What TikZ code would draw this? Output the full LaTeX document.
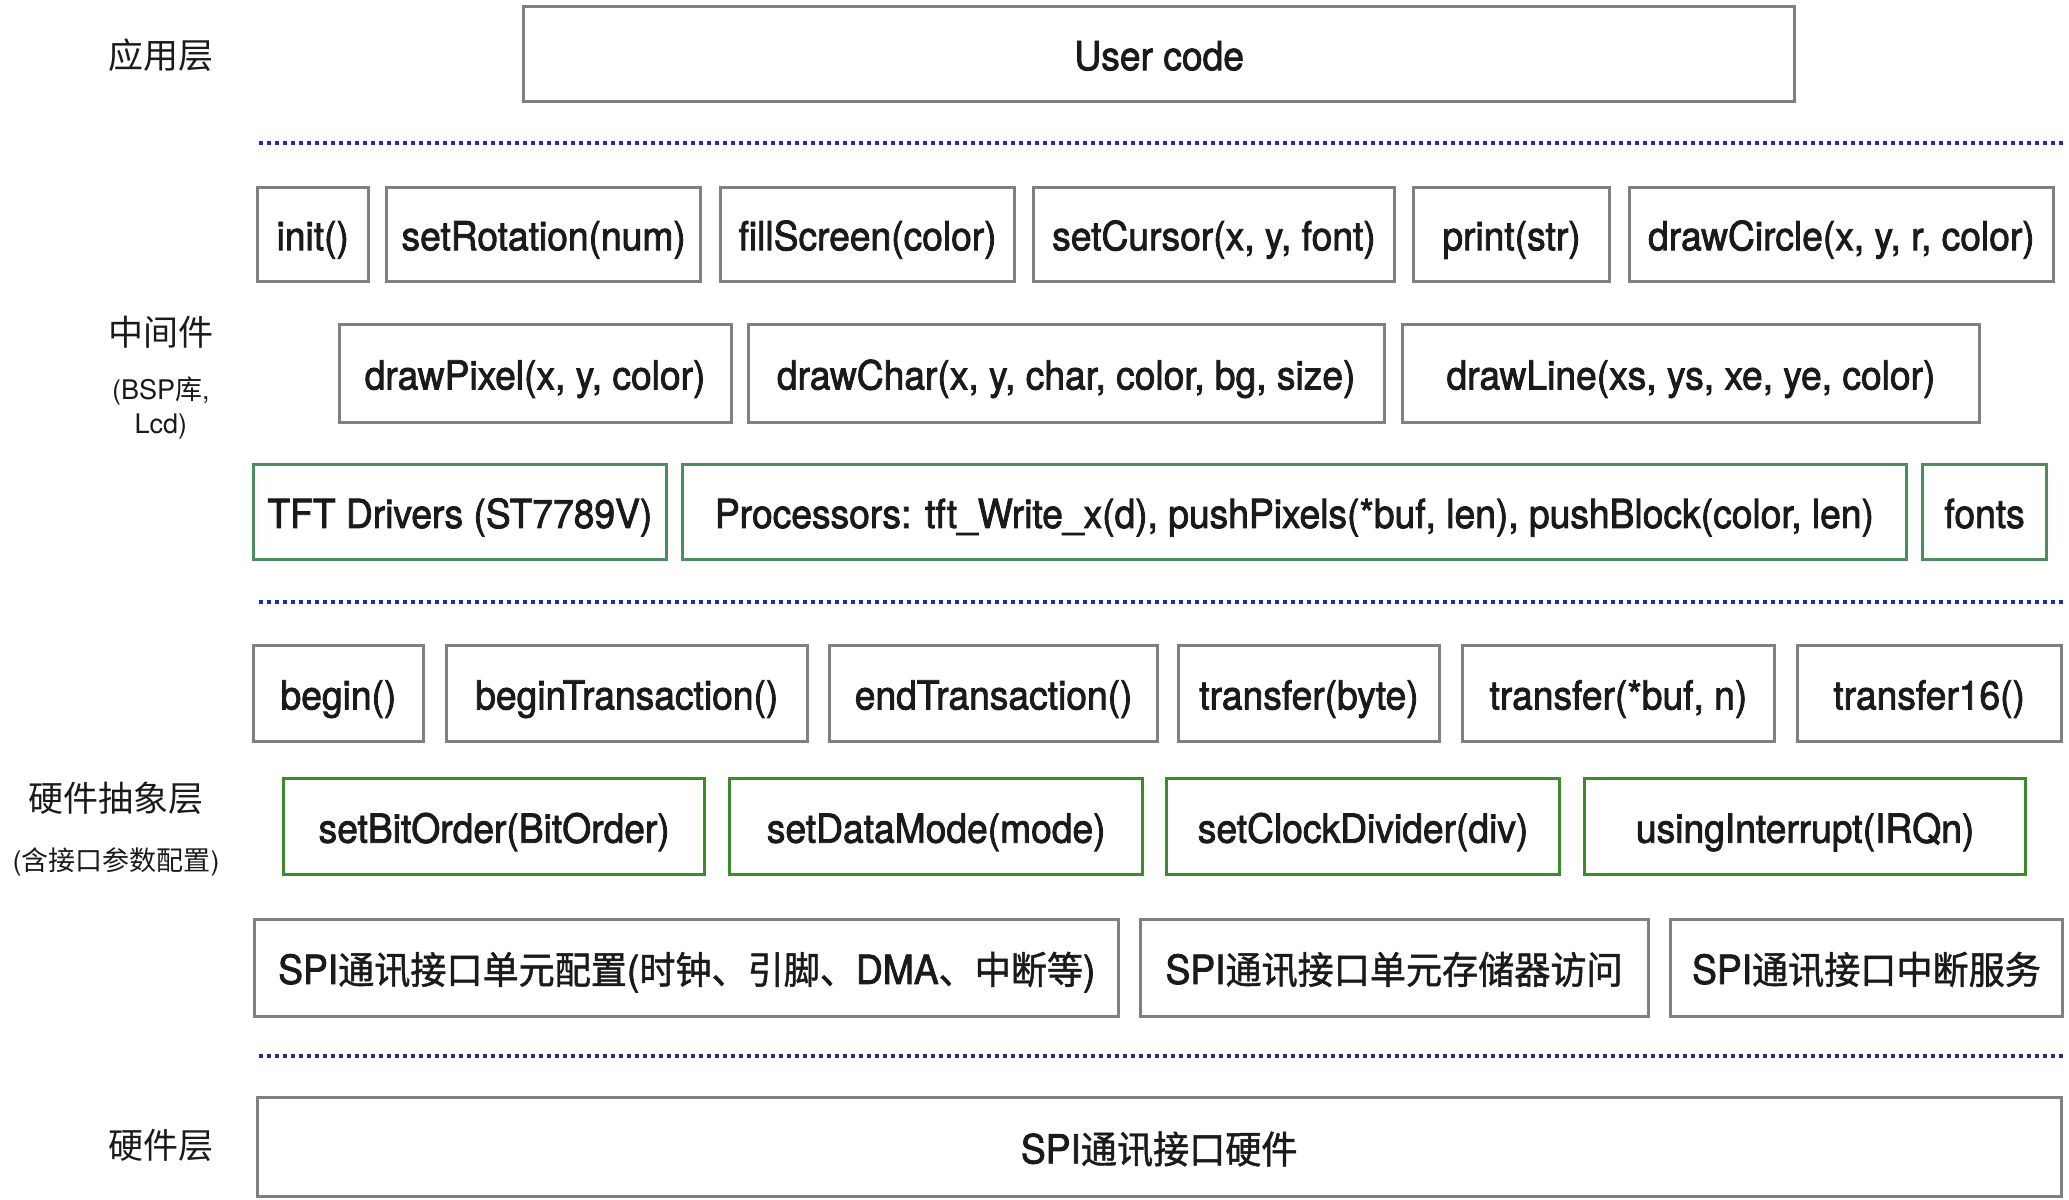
\documentclass[tikz,border=0pt]{standalone}
\usepackage{fontspec}
\setmainfont{TeX Gyre Heros}
\newfontfamily\medfont[RawFeature={embolden=2.0}, FakeStretch=0.93]{TeX Gyre Heros}
\newfontfamily\cjk{Noto Sans CJK SC}
\newfontfamily\cjkmed[RawFeature={embolden=1.2}, FakeStretch=0.95]{Noto Sans CJK SC}
\usetikzlibrary{fit}
\definecolor{boxgray}{HTML}{808080}
\definecolor{dgreen}{HTML}{4E8B5F}
\definecolor{bgreen}{HTML}{3C8C2C}
\definecolor{dotblue}{HTML}{1C2DB0}
\definecolor{txt}{HTML}{1A1A1A}
\tikzset{
  gbox/.style={draw=boxgray, line width=1.5pt, inner sep=0pt},
  g1box/.style={gbox, draw=dgreen, line width=1.4pt},
  g2box/.style={gbox, draw=bgreen, line width=1.4pt},
  btxt/.style={text=txt, inner sep=0pt, text height=20pt, text depth=4pt, font=\medfont\fontsize{20}{23}\selectfont},
  layer/.style={text=txt, font=\cjk\fontsize{17.5}{20}\selectfont, inner sep=0pt},
  sublayer/.style={text=txt, font=\fontsize{13.5}{16}\selectfont, inner sep=0pt},
  sep/.style={draw=dotblue, line width=2pt, dash pattern=on 2pt off 2pt}
}
\newcommand{\zh}[1]{{\cjkmed\fontsize{19}{22}\selectfont #1}}
\begin{document}
\begin{tikzpicture}[x=0.65975pt, y=-0.65975pt]
\useasboundingbox[fill=white] (0,0) rectangle (1568,909);
% layer labels
\node[layer] (lapp) at (122,42) {应用层};
\node[layer] (lmid) at (122,252) {中间件};
\node[sublayer] (lmid2) at (122,296) {(BSP{\cjk 库},};
\node[sublayer] (lmid3) at (122,323) {Lcd)};
\node[layer] (lhal) at (88,605) {硬件抽象层};
\node[sublayer] (lhal2) at (88,653) {({\cjk 含接口参数配置})};
\node[layer] (lhw) at (122,868) {硬件层};
% separators
\coordinate (s1a) at (196,108); \coordinate (s1b) at (1566,108);
\coordinate (s2a) at (196,456); \coordinate (s2b) at (1566,456);
\coordinate (s3a) at (196,800); \coordinate (s3b) at (1566,800);
\draw[sep] (s1a) -- (s1b);
\draw[sep] (s2a) -- (s2b);
\draw[sep] (s3a) -- (s3b);
% application
\node[gbox, fit={(397,5) (1360,77)}, label={[btxt]center:User code}] (user) {};
% middleware row 1
\node[gbox, fit={(195,142) (279,213)}, label={[btxt]center:init()}] (init) {};
\node[gbox, fit={(293,142) (531,213)}, label={[btxt]center:setRotation(num)}] (rot) {};
\node[gbox, fit={(546,142) (769,213)}, label={[btxt]center:fillScreen(color)}] (fill) {};
\node[gbox, fit={(783,142) (1057,213)}, label={[btxt]center:{setCursor(x, y, font)}}] (cur) {};
\node[gbox, fit={(1071,142) (1220,213)}, label={[btxt]center:print(str)}] (prt) {};
\node[gbox, fit={(1235,142) (1556,213)}, label={[btxt]center:{drawCircle(x, y, r, color)}}] (circ) {};
% middleware row 2
\node[gbox, fit={(257,246) (554,320)}, label={[btxt]center:{drawPixel(x, y, color)}}] (pix) {};
\node[gbox, fit={(567,246) (1049,320)}, label={[btxt]center:{drawChar(x, y, char, color, bg, size)}}] (chr) {};
\node[gbox, fit={(1063,246) (1500,320)}, label={[btxt]center:{drawLine(xs, ys, xe, ye, color)}}] (line) {};
% middleware row 3
\node[g1box, fit={(192,352) (505,424)}, label={[btxt]center:TFT Drivers (ST7789V)}] (tft) {};
\node[g1box, fit={(517,352) (1445,424)}, label={[btxt]center:{Processors: tft\_Write\_x(d), pushPixels(*buf, len), pushBlock(color, len)}}] (proc) {};
\node[g1box, fit={(1457,352) (1551,424)}, label={[btxt]center:fonts}] (fonts) {};
% HAL row 1
\node[gbox, fit={(192,489) (321,562)}, label={[btxt]center:begin()}] (beg) {};
\node[gbox, fit={(338,489) (612,562)}, label={[btxt]center:beginTransaction()}] (btr) {};
\node[gbox, fit={(629,489) (877,562)}, label={[btxt]center:endTransaction()}] (etr) {};
\node[gbox, fit={(893,489) (1091,562)}, label={[btxt]center:transfer(byte)}] (tb) {};
\node[gbox, fit={(1108,489) (1345,562)}, label={[btxt]center:{transfer(*buf, n)}}] (tbuf) {};
\node[gbox, fit={(1362,489) (1562,562)}, label={[btxt]center:transfer16()}] (t16) {};
% HAL row 2
\node[g2box, fit={(215,590) (534,663)}, label={[btxt]center:setBitOrder(BitOrder)}] (bo) {};
\node[g2box, fit={(553,590) (866,663)}, label={[btxt]center:setDataMode(mode)}] (dm) {};
\node[g2box, fit={(884,590) (1182,663)}, label={[btxt]center:setClockDivider(div)}] (cd) {};
\node[g2box, fit={(1201,590) (1535,663)}, label={[btxt]center:usingInterrupt(IRQn)}] (ui) {};
% HAL row 3
\node[gbox, fit={(193,697) (848,770)}, label={[btxt]center:{SPI\zh{通讯接口单元配置}(\zh{时钟、引脚、}DMA\zh{、中断等})}}] (cfg) {};
\node[gbox, fit={(864,697) (1249,770)}, label={[btxt]center:{SPI\zh{通讯接口单元存储器访问}}}] (mem) {};
\node[gbox, fit={(1266,697) (1563,770)}, label={[btxt]center:{SPI\zh{通讯接口中断服务}}}] (isr) {};
% hardware
\node[gbox, fit={(195,832) (1562,907)}, label={[btxt]center:{SPI\zh{通讯接口硬件}}}] (hw) {};
\end{tikzpicture}
\end{document}
